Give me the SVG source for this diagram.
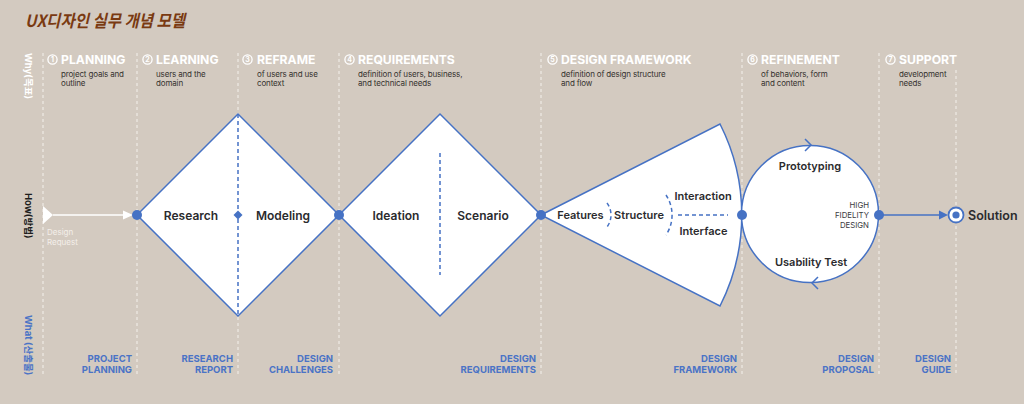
<svg xmlns="http://www.w3.org/2000/svg" width="1024" height="404" viewBox="0 0 1024 404">
<defs>
<style>
.bg{fill:#d3cac0}
.grid{stroke:#f4f1ec;stroke-width:1;stroke-dasharray:3 3;fill:none}
.hdr{font-family:Inter,"Liberation Sans",sans-serif;font-size:12.2px;font-weight:700;fill:#ffffff}
.num{font-family:Inter,"Liberation Sans",sans-serif;font-size:7px;font-weight:700;fill:#ffffff;text-anchor:middle}
.numc{fill:none;stroke:#ffffff;stroke-width:1.3}
.desc{font-family:Inter,"Liberation Sans",sans-serif;font-size:8px;letter-spacing:-0.15px;fill:#35322f}
.out{font-family:Inter,"Liberation Sans",sans-serif;font-size:9.5px;font-weight:700;fill:#4a73c6;text-anchor:end}
.shape{fill:#ffffff;stroke:#4672c4;stroke-width:1.5}
.dash{fill:none;stroke:#4672c4;stroke-width:1.5;stroke-dasharray:4 3}
.dot{fill:#4672c4}
.lbl{font-family:Inter,"Liberation Sans",sans-serif;font-size:12px;font-weight:600;fill:#2b2b2e;text-anchor:middle}
.lbs{font-family:Inter,"Liberation Sans",sans-serif;font-size:11px;font-weight:600;fill:#2b2b2e;text-anchor:middle}
.small{font-family:Inter,"Liberation Sans",sans-serif;font-size:7.8px;fill:#3b3b3e;text-anchor:end}
.side{font-family:Inter,"Noto Sans CJK KR",sans-serif;font-size:9.5px;font-weight:700}
.conn{fill:none;stroke:#4672c4;stroke-width:1.5}
</style>
</defs>
<rect class="bg" x="0" y="0" width="1024" height="404"/>
<text x="25" y="27" font-family="'Noto Sans CJK KR',sans-serif" font-size="17" font-weight="700" font-style="italic" fill="#7a3a12" textLength="160" lengthAdjust="spacingAndGlyphs">UX디자인 실무 개념 모델</text>

<g id="grid">
<line class="grid" x1="43" y1="53" x2="43" y2="376"/>
<line class="grid" x1="137" y1="53" x2="137" y2="376"/>
<line class="grid" x1="238" y1="53" x2="238" y2="376"/>
<line class="grid" x1="339" y1="53" x2="339" y2="376"/>
<line class="grid" x1="541" y1="53" x2="541" y2="376"/>
<line class="grid" x1="742" y1="53" x2="742" y2="376"/>
<line class="grid" x1="879" y1="53" x2="879" y2="376"/>
<line class="grid" x1="956" y1="70" x2="956" y2="376"/>
</g>

<g id="side-labels">
<text class="side" fill="#ffffff" font-weight="500" transform="translate(25,53) rotate(90)">Why(목표)</text>
<text class="side" fill="#1e1e1e" transform="translate(25,193) rotate(90)">How(방법)</text>
<text class="side" fill="#4a73c6" transform="translate(25,315) rotate(90)">What (산출물)</text>
</g>

<g id="phases">
<g id="phase1"><circle class="numc" cx="52.5" cy="59.5" r="4.6"/><text class="num" x="52.5" y="62">1</text><text class="hdr" x="61" y="64">PLANNING</text><text class="desc" x="61" y="77">project goals and</text><text class="desc" x="61" y="86">outline</text></g>
<g id="phase2"><circle class="numc" cx="147.5" cy="59.5" r="4.6"/><text class="num" x="147.5" y="62">2</text><text class="hdr" x="156" y="64">LEARNING</text><text class="desc" x="156" y="77">users and the</text><text class="desc" x="156" y="86">domain</text></g>
<g id="phase3"><circle class="numc" cx="247.5" cy="59.5" r="4.6"/><text class="num" x="247.5" y="62">3</text><text class="hdr" x="257" y="64">REFRAME</text><text class="desc" x="257" y="77">of users and use</text><text class="desc" x="257" y="86">context</text></g>
<g id="phase4"><circle class="numc" cx="349.5" cy="59.5" r="4.6"/><text class="num" x="349.5" y="62">4</text><text class="hdr" x="358" y="64">REQUIREMENTS</text><text class="desc" x="358" y="77">definition of users, business,</text><text class="desc" x="358" y="86">and technical needs</text></g>
<g id="phase5"><circle class="numc" cx="552.5" cy="59.5" r="4.6"/><text class="num" x="552.5" y="62">5</text><text class="hdr" x="561" y="64">DESIGN FRAMEWORK</text><text class="desc" x="561" y="77">definition of design structure</text><text class="desc" x="561" y="86">and flow</text></g>
<g id="phase6"><circle class="numc" cx="752.5" cy="59.5" r="4.6"/><text class="num" x="752.5" y="62">6</text><text class="hdr" x="761" y="64">REFINEMENT</text><text class="desc" x="761" y="77">of behaviors, form</text><text class="desc" x="761" y="86">and content</text></g>
<g id="phase7"><circle class="numc" cx="890.5" cy="59.5" r="4.6"/><text class="num" x="890.5" y="62">7</text><text class="hdr" x="899" y="64">SUPPORT</text><text class="desc" x="899" y="77">development</text><text class="desc" x="899" y="86">needs</text></g>
</g>

<g id="outputs">
<text class="out" x="132" y="362">PROJECT</text><text class="out" x="132" y="373">PLANNING</text>
<text class="out" x="233" y="362">RESEARCH</text><text class="out" x="233" y="373">REPORT</text>
<text class="out" x="333" y="362">DESIGN</text><text class="out" x="333" y="373">CHALLENGES</text>
<text class="out" x="536" y="362">DESIGN</text><text class="out" x="536" y="373">REQUIREMENTS</text>
<text class="out" x="737" y="362">DESIGN</text><text class="out" x="737" y="373">FRAMEWORK</text>
<text class="out" x="874" y="362">DESIGN</text><text class="out" x="874" y="373">PROPOSAL</text>
<text class="out" x="951" y="362">DESIGN</text><text class="out" x="951" y="373">GUIDE</text>
</g>

<g id="start">
<polygon points="43,206 53,215 43,224" fill="#ffffff"/>
<text x="47" y="235" font-family="Inter,'Liberation Sans',sans-serif" font-size="8" fill="#f3efea">Design</text>
<text x="47" y="245" font-family="Inter,'Liberation Sans',sans-serif" font-size="8" fill="#f3efea">Request</text>
</g>

<g id="diamond1">
<polygon class="shape" points="137,215 238,114 339,215 238,316"/>
<line class="dash" x1="238" y1="114" x2="238" y2="316"/>
<polygon class="dot" points="238,210.5 242.5,215 238,219.5 233.5,215"/>
<text class="lbl" x="191" y="219.5">Research</text>
<text class="lbl" x="283" y="219.5">Modeling</text>
</g>

<g id="diamond2">
<polygon class="shape" points="339,215 440,114 541,215 440,316"/>
<line class="dash" x1="440" y1="153" x2="440" y2="275"/>
<text class="lbl" x="396" y="219.5">Ideation</text>
<text class="lbl" x="483" y="219.5">Scenario</text>
</g>

<g id="framework">
<path class="shape" d="M541,215 L720,124 A201,201 0 0 1 720,306 Z"/>
<path class="dash" d="M607,203 A20,20 0 0 1 607,227"/>
<path class="dash" d="M666,195 A36,36 0 0 1 666,235"/>
<line class="dash" x1="678" y1="215" x2="728" y2="215"/>
<text class="lbs" x="580.5" y="219">Features</text>
<text class="lbs" x="639" y="219">Structure</text>
<text class="lbs" x="703" y="200">Interaction</text>
<text class="lbs" x="703.5" y="235">Interface</text>
</g>

<g id="refinement">
<circle class="shape" cx="810" cy="214" r="68.5"/>
<polyline class="conn" points="805,139 811,145 805,151"/>
<polyline class="conn" points="818,277 812,283 818,289"/>
<text class="lbs" x="810" y="170">Prototyping</text>
<text class="lbs" x="811" y="266">Usability Test</text>
<text class="small" x="869" y="208">HIGH</text>
<text class="small" x="869" y="218">FIDELITY</text>
<text class="small" x="869" y="228">DESIGN</text>
</g>

<g id="solution">
<circle cx="956" cy="215" r="7.5" fill="#ffffff" stroke="#4672c4" stroke-width="1.8"/>
<circle class="dot" cx="956" cy="215" r="3.6"/>
<text x="968" y="219.5" font-family="Inter,'Liberation Sans',sans-serif" font-size="12.5" font-weight="600" fill="#2b2b2e">Solution</text>
</g>

<g id="connectors">
<line x1="53" y1="215" x2="126" y2="215" stroke="#ffffff" stroke-width="1.5"/>
<polygon points="123,210.5 133,215 123,219.5" fill="#ffffff"/>
<line class="conn" x1="879" y1="215" x2="941" y2="215"/>
<polygon class="dot" points="939,210.5 948,215 939,219.5"/>
<circle class="dot" cx="137" cy="215" r="5"/>
<circle class="dot" cx="339" cy="215" r="5"/>
<circle class="dot" cx="541" cy="215" r="5"/>
<circle class="dot" cx="742" cy="215" r="5"/>
<circle class="dot" cx="879" cy="215" r="5"/>
</g>
</svg>
